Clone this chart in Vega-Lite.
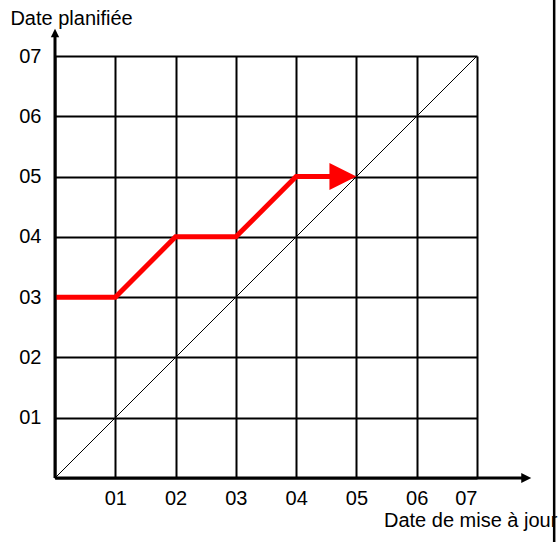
{
  "$schema": "https://vega.github.io/schema/vega-lite/v6.json",
  "width": 422,
  "height": 422,
  "autosize": "none",
  "padding": {"left": 55, "top": 56, "right": 82, "bottom": 64},
  "config": {"view": {"stroke": null}, "font": "Liberation Sans"},
  "layer": [
    {
      "data": {"values": [{"x": 0, "y": 0, "x2": 7, "y2": 7}]},
      "mark": {"type": "rule", "color": "black", "strokeWidth": 1},
      "encoding": {
        "x": {"field": "x", "type": "quantitative", "scale": {"domain": [0, 7], "nice": false, "zero": false},
          "axis": {"values": [0,1,2,3,4,5,6,7], "grid": true, "gridColor": "black", "gridWidth": 2, "gridOpacity": 1, "domain": false, "ticks": false, "title": null,
            "labelExpr": "datum.value == 0 ? '' : '0' + datum.value", "labelFontSize": 20, "labelColor": "black", "labelPadding": 10, "labelFont": "Liberation Sans"}},
        "y": {"field": "y", "type": "quantitative", "scale": {"domain": [0, 7], "nice": false, "zero": false},
          "axis": {"values": [0,1,2,3,4,5,6,7], "grid": true, "gridColor": "black", "gridWidth": 2, "gridOpacity": 1, "domain": false, "ticks": false, "title": null,
            "labelExpr": "datum.value == 0 ? '' : '0' + datum.value", "labelFontSize": 20, "labelColor": "black", "labelPadding": 14, "labelFont": "Liberation Sans"}},
        "x2": {"field": "x2"},
        "y2": {"field": "y2"}
      }
    },
    {
      "data": {"values": [
        {"x": 0, "y": 3}, {"x": 1, "y": 3}, {"x": 2, "y": 4}, {"x": 3, "y": 4}, {"x": 4, "y": 5}, {"x": 4.6, "y": 5}
      ]},
      "mark": {"type": "line", "color": "#ff0000", "strokeWidth": 5, "strokeJoin": "miter"},
      "encoding": {
        "x": {"field": "x", "type": "quantitative"},
        "y": {"field": "y", "type": "quantitative"}
      }
    },
    {
      "data": {"values": [{"x": 5, "y": 5}]},
      "mark": {"type": "point", "shape": "M-2,-1L0,0L-2,1Z", "filled": true, "color": "#ff0000", "opacity": 1, "size": 729, "strokeWidth": 0},
      "encoding": {
        "x": {"field": "x", "type": "quantitative"},
        "y": {"field": "y", "type": "quantitative"}
      }
    },
    {
      "data": {"values": [
        {"x": 0, "y": 0, "x2": 7.8, "y2": 0},
        {"x": 0, "y": 0, "x2": 0, "y2": 7.35}
      ]},
      "mark": {"type": "rule", "color": "black", "strokeWidth": 3},
      "encoding": {
        "x": {"field": "x", "type": "quantitative"},
        "y": {"field": "y", "type": "quantitative"},
        "x2": {"field": "x2"},
        "y2": {"field": "y2"}
      }
    },
    {
      "data": {"values": [{"x": 7.9, "y": 0}]},
      "mark": {"type": "point", "shape": "M-2,-1L0,0L-2,1Z", "filled": true, "color": "black", "opacity": 1, "size": 100, "strokeWidth": 0},
      "encoding": {
        "x": {"field": "x", "type": "quantitative"},
        "y": {"field": "y", "type": "quantitative"}
      }
    },
    {
      "data": {"values": [{"x": 0, "y": 7.45}]},
      "mark": {"type": "point", "shape": "M-1,2L0,0L1,2Z", "filled": true, "color": "black", "opacity": 1, "size": 70, "strokeWidth": 0},
      "encoding": {
        "x": {"field": "x", "type": "quantitative"},
        "y": {"field": "y", "type": "quantitative"}
      }
    },
    {
      "data": {"values": [
        {"x": -0.74, "y": 7.514, "label": "Date planifiée"},
        {"x": 5.457, "y": -0.813, "label": "Date de mise à jour"}
      ]},
      "mark": {"type": "text", "align": "left", "baseline": "alphabetic", "fontSize": 20, "font": "Liberation Sans", "color": "black"},
      "encoding": {
        "x": {"field": "x", "type": "quantitative"},
        "y": {"field": "y", "type": "quantitative"},
        "text": {"field": "label"}
      }
    },
    {
      "data": {"values": [{"x": 8.28, "y": -1.1, "y2": 8.0}]},
      "mark": {"type": "rule", "color": "black", "strokeWidth": 2.5},
      "encoding": {
        "x": {"field": "x", "type": "quantitative"},
        "y": {"field": "y", "type": "quantitative"},
        "y2": {"field": "y2"}
      }
    }
  ]
}
